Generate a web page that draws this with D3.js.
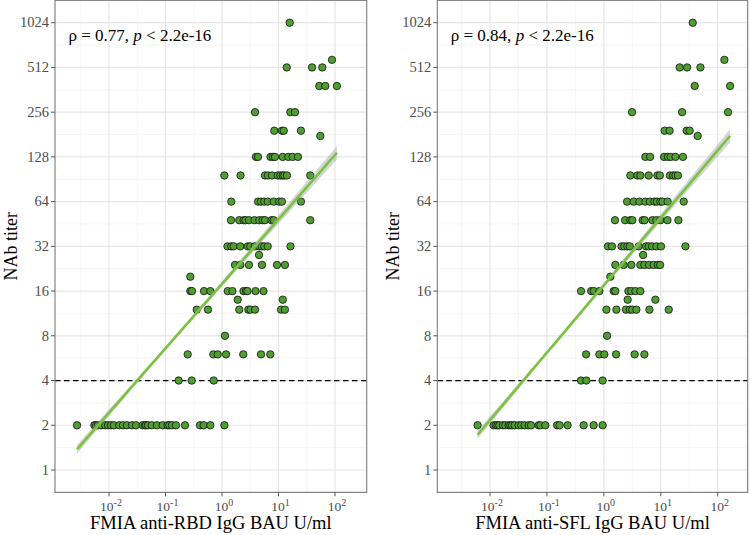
<!DOCTYPE html>
<html><head><meta charset="utf-8">
<script src="https://cdn.jsdelivr.net/npm/d3@7"></script>
<style>body{margin:0;background:#fff}svg{display:block}</style>
</head><body><svg id="c" width="750" height="535"></svg>
<script>
// ---------- data ----------
const yTicks = [1, 2, 4, 8, 16, 32, 64, 128, 256, 512, 1024];
const xTickExponents = [-2, -1, 0, 1, 2];

// NAb titer levels and BAU values (U/ml) for the anti-RBD panel
const rbdTiters = [1024, 576, 512, 384, 256, 192, 177, 128, 96, 64, 48, 32, 28, 24, 20, 16, 14, 12, 8, 6, 4, 2];
const rbdBAU = [
  [15.8],
  [88.5],
  [14.0, 39.2, 59.6],
  [52.7, 67.3, 108],
  [3.84, 16.2, 19.6],
  [8.43, 11.5, 12.4, 25.0],
  [55.0],
  [4.0, 4.34, 7.22, 8.0, 8.67, 11.9, 14.9, 17.8, 22.1],
  [1.10, 2.13, 5.77, 6.52, 7.67, 9.68, 10.8, 11.9, 12.7, 14.1, 36.5],
  [1.46, 4.34, 4.90, 5.60, 6.44, 8.22, 10.3, 11.5, 25.0],
  [1.44, 2.02, 2.42, 2.61, 3.0, 3.76, 4.57, 5.25, 5.77, 7.52, 8.22, 36.5],
  [1.25, 1.46, 1.61, 2.11, 2.85, 3.17, 3.79, 4.57, 5.04, 5.60, 6.44, 16.3],
  [4.52],
  [1.70, 2.11, 3.0, 5.10, 9.40, 13.0],
  [0.275],
  [0.275, 0.294, 0.48, 0.621, 1.26, 1.53, 2.40, 2.66, 2.83, 3.92, 5.43],
  [1.90, 11.9],
  [0.357, 0.565, 2.02, 2.92, 3.19, 3.84, 11.1, 13.0],
  [1.13],
  [0.247, 0.702, 0.84, 1.18, 2.38, 4.90, 7.16],
  [0.171, 0.291, 0.713],
  [0.00272, 0.0055, 0.00589, 0.00638, 0.00722, 0.0086, 0.0096, 0.0108, 0.0122, 0.0152,
   0.0177, 0.0208, 0.0255, 0.030, 0.0395, 0.0434, 0.0452, 0.049, 0.057, 0.0708,
   0.0892, 0.109, 0.117, 0.130, 0.153, 0.221, 0.408, 0.474, 0.621, 1.10]
];

// NAb titer levels and BAU values (U/ml) for the anti-SFL panel
const sflTiters = [1024, 576, 512, 384, 256, 192, 177, 128, 96, 64, 48, 32, 28, 24, 20, 16, 14, 12, 8, 6, 4, 2];
const sflBAU = [
  [36.4],
  [131],
  [21.5, 29.0, 49.7],
  [39.4, 165],
  [3.13, 23.7, 152],
  [11.7, 14.3, 28.5, 32.2],
  [44.5],
  [5.36, 6.49, 11.4, 13.3, 14.9, 18.1, 24.5],
  [2.92, 3.88, 4.38, 6.13, 8.71, 9.64, 14.5, 16.5, 18.1, 20.0],
  [2.56, 3.34, 4.21, 5.36, 6.43, 7.72, 8.54, 9.84, 10.7, 13.2, 25.3],
  [1.57, 2.36, 2.92, 3.17, 4.81, 5.21, 7.12, 8.37, 9.84, 13.1, 20.4],
  [1.18, 1.39, 2.05, 2.29, 2.59, 2.86, 4.09, 5.52, 6.13, 7.03, 8.37, 10.1, 27.1],
  [4.89],
  [1.59, 2.23, 3.04, 4.38, 5.15, 6.23, 7.50, 8.89, 9.75],
  [1.30],
  [0.397, 0.598, 0.667, 0.834, 1.49, 1.59, 2.70, 3.04, 3.58, 4.38],
  [2.62, 8.04],
  [1.11, 1.66, 2.44, 2.86, 3.17, 3.73, 6.31, 13.8],
  [1.14],
  [0.487, 0.834, 1.02, 1.64, 3.48, 5.15],
  [0.397, 0.492, 0.953],
  [0.00605, 0.01156, 0.0127, 0.0136, 0.0146, 0.0169, 0.0186, 0.0212, 0.0228, 0.0244, 0.0271,
   0.0318, 0.0355, 0.0406, 0.0477, 0.0526, 0.0715, 0.0766, 0.0937, 0.151, 0.167,
   0.231, 0.442, 0.662, 0.953]
];

// fitted line log2(titer) = intercept + slope * log10(BAU),
// with its 95% band: centre of the band, half-width there and growth away from it (log2 units)
const rbdFit = [4.161, 1.441];
const sflFit = [4.131, 1.507];
const rbdBand = [-0.8, 0.04, 0.051];
const sflBand = [-0.6, 0.04, 0.050];

const panelTexts = [
  {rho: "0.77", xTitle: "FMIA anti-RBD IgG BAU U/ml"},
  {rho: "0.84", xTitle: "FMIA anti-SFL IgG BAU U/ml"}
];

// ---------- drawing ----------
const svg = d3.select("#c");
svg.append("rect").attr("width", 750).attr("height", 535).attr("fill", "#fff");
const FONT = "'Liberation Serif', 'Times New Roman', serif";

const layouts = [
  {left: 55, right: 366.7, x01: 109, x100: 335, titers: rbdTiters, bau: rbdBAU, fit: rbdFit, band: rbdBand},
  {left: 437.3, right: 747.7, x01: 490, x100: 717.7, titers: sflTiters, bau: sflBAU, fit: sflFit, band: sflBand}
];

const y = d3.scaleLog().base(2).domain([1, 1024]).range([470, 22.7]);
const pTop = y(Math.pow(2, 10.5)), pBottom = y(Math.pow(2, -0.5));

layouts.forEach((L, i) => {
  const x = d3.scaleLog().domain([0.01, 100]).range([L.x01, L.x100]);
  const g = svg.append("g");
  const clipId = "clip" + i;
  svg.append("clipPath").attr("id", clipId).append("rect")
    .attr("x", L.left).attr("y", pTop).attr("width", L.right - L.left).attr("height", pBottom - pTop);
  const inner = g.append("g").attr("clip-path", `url(#${clipId})`);

  // minor grid
  const minorX = d3.range(-2.5, 3, 1).map(e => Math.pow(10, e));
  const minorY = d3.range(-0.5, 11, 1).map(e => Math.pow(2, e));
  inner.selectAll(".mx").data(minorX).join("line")
    .attr("x1", d => x(d)).attr("x2", d => x(d)).attr("y1", pTop).attr("y2", pBottom)
    .attr("stroke", "#f0f0f0").attr("stroke-width", 0.7);
  inner.selectAll(".my").data(minorY).join("line")
    .attr("y1", d => y(d)).attr("y2", d => y(d)).attr("x1", L.left).attr("x2", L.right)
    .attr("stroke", "#f0f0f0").attr("stroke-width", 0.7);
  // major grid
  inner.selectAll(".gx").data(xTickExponents).join("line")
    .attr("x1", d => x(Math.pow(10, d))).attr("x2", d => x(Math.pow(10, d))).attr("y1", pTop).attr("y2", pBottom)
    .attr("stroke", "#e6e6e6").attr("stroke-width", 1.2);
  inner.selectAll(".gy").data(yTicks).join("line")
    .attr("y1", d => y(d)).attr("y2", d => y(d)).attr("x1", L.left).attr("x2", L.right)
    .attr("stroke", "#e6e6e6").attr("stroke-width", 1.2);

  // dashed reference line at titer 4
  inner.append("line").attr("x1", L.left).attr("x2", L.right).attr("y1", y(4)).attr("y2", y(4))
    .attr("stroke", "#000").attr("stroke-width", 1.2).attr("stroke-dasharray", "5.5,3.5");

  // points
  const pts = [];
  L.titers.forEach((t, k) => L.bau[k].forEach(b => pts.push({b, t})));
  inner.selectAll(".pt").data(pts).join("circle")
    .attr("cx", d => x(d.b)).attr("cy", d => y(d.t)).attr("r", 3.7)
    .attr("fill", "#4f9e31").attr("stroke", "#111").attr("stroke-width", 0.8);

  // fitted line over the range of the data, with its band
  const [icpt, slope] = L.fit;
  const [c0, h0, k0] = L.band;
  const [x0, x1] = d3.extent(pts, p => Math.log10(p.b));
  const grid = d3.range(0, 81).map(k => x0 + (x1 - x0) * k / 80);
  const band = grid.map(v => {
    const f = icpt + slope * v, hw = Math.sqrt(h0 * h0 + k0 * k0 * (v - c0) ** 2);
    return {v, f, lo: f - hw, hi: f + hw};
  });
  inner.append("path").datum(band)
    .attr("d", d3.area().x(d => x(Math.pow(10, d.v))).y0(d => y(Math.pow(2, d.lo))).y1(d => y(Math.pow(2, d.hi))))
    .attr("fill", "#999").attr("fill-opacity", 0.4);
  inner.append("path").datum(band)
    .attr("d", d3.line().x(d => x(Math.pow(10, d.v))).y(d => y(Math.pow(2, d.f))))
    .attr("fill", "none").attr("stroke", "#7cc242").attr("stroke-width", 2.6);

  // panel border
  g.append("rect").attr("x", L.left).attr("y", pTop).attr("width", L.right - L.left).attr("height", pBottom - pTop)
    .attr("fill", "none").attr("stroke", "#7a7a7a").attr("stroke-width", 1.1);

  // y axis ticks + labels
  const ya = g.append("g");
  ya.selectAll("line").data(yTicks).join("line")
    .attr("x1", L.left - 4).attr("x2", L.left).attr("y1", d => y(d)).attr("y2", d => y(d))
    .attr("stroke", "#555").attr("stroke-width", 1);
  ya.selectAll("text").data(yTicks).join("text")
    .attr("x", L.left - 6).attr("y", d => y(d)).attr("dy", "0.33em")
    .attr("text-anchor", "end").attr("font-family", FONT).attr("font-size", 14.5).attr("fill", "#4d4d4d")
    .text(d => d);

  // x axis ticks + labels
  const xa = g.append("g");
  xa.selectAll("line").data(xTickExponents).join("line")
    .attr("x1", d => x(Math.pow(10, d))).attr("x2", d => x(Math.pow(10, d))).attr("y1", pBottom).attr("y2", pBottom + 4)
    .attr("stroke", "#555").attr("stroke-width", 1);
  xa.selectAll("text").data(xTickExponents).join("text")
    .attr("x", d => x(Math.pow(10, d)) + 2).attr("y", 511)
    .attr("text-anchor", "middle").attr("font-family", FONT).attr("font-size", 13.5).attr("fill", "#4d4d4d")
    .each(function (d) {
      const t = d3.select(this);
      t.append("tspan").text("10");
      t.append("tspan").attr("dy", -5).attr("font-size", 10).text(d);
    });

  // axis titles
  const T = panelTexts[i];
  g.append("text").attr("x", (L.left + L.right) / 2).attr("y", 529)
    .attr("text-anchor", "middle").attr("font-family", FONT).attr("font-size", 18.5).attr("fill", "#000")
    .text(T.xTitle);
  g.append("text").attr("transform", `translate(${L.left - 38},${(pTop + pBottom) / 2}) rotate(-90)`)
    .attr("text-anchor", "middle").attr("font-family", FONT).attr("font-size", 18).attr("fill", "#000")
    .text("NAb titer");

  // correlation annotation
  const a = g.append("text").attr("x", L.left + 13.5).attr("y", 41)
    .attr("font-family", FONT).attr("font-size", 17).attr("fill", "#000");
  a.append("tspan").text(`ρ = ${T.rho}, `);
  a.append("tspan").attr("font-style", "italic").text("p");
  a.append("tspan").text(" < 2.2e-16");
});
</script></body></html>
